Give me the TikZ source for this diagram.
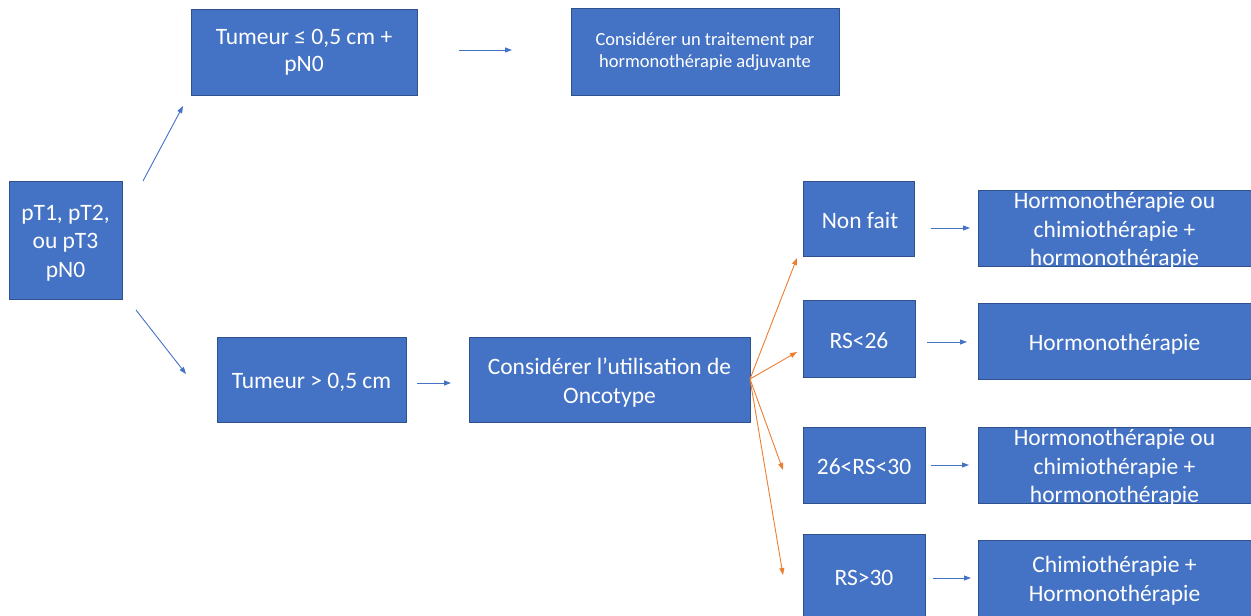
\documentclass[tikz,border=0pt]{standalone}
\usepackage{fontspec}
\setmainfont{Carlito}
\usetikzlibrary{arrows.meta}
\definecolor{boxblue}{HTML}{4472C4}
\definecolor{boxedge}{HTML}{2F528F}
\definecolor{orangec}{HTML}{ED7D31}
\begin{document}
\begin{tikzpicture}[x=1pt,y=-1pt,
  box/.style={draw=boxedge, line width=0.8pt, fill=boxblue, text=white, align=center, inner sep=0pt, font=\fontsize{23.5}{28.5}\selectfont},
  txt/.style={text=white, align=center, inner sep=0pt, font=\fontsize{23.5}{28.5}\selectfont},
  link/.style={draw=boxblue, line width=0.9pt, -{Triangle[length=7pt,width=5pt]}},
  olink/.style={draw=orangec, line width=0.9pt, -{Triangle[length=7pt,width=5pt]}}]
\useasboundingbox (0,0) rectangle (1251,616);

% left column
\node[box, minimum width=113pt, minimum height=118pt] (A) at (65.5,240) {};
\node[txt] (At) at (65.5,243) {pT1, pT2,\\ou pT3\\pN0};
\node[box, minimum width=226pt, minimum height=86pt, font=\fontsize{23.5}{27}\selectfont] (B) at (304,52) {Tumeur ≤ 0,5 cm +\\pN0};
\node[box, minimum width=268pt, minimum height=87pt, font=\fontsize{18.5}{22}\selectfont] (C) at (705,51.5) {Considérer un traitement par\\hormonothérapie adjuvante};
\node[box, minimum width=189pt, minimum height=85pt] (D) at (311.5,379.5) {};
\node[txt] (Dt) at (311.5,382) {Tumeur > 0,5 cm};
\node[box, minimum width=281pt, minimum height=85pt] (E) at (609.5,379.5) {};
\node[txt] (Et) at (609.5,382.5) {Considérer l’utilisation de\\Oncotype};

% results
\node[box, minimum width=111pt, minimum height=75pt] (F1) at (858.5,218.5) {};
\node[txt] (F1t) at (860,220) {Non fait};
\node[box, minimum width=112pt, minimum height=77pt] (F2) at (859,338.5) {};
\node[txt] (F2t) at (859,340.5) {RS<26};
\node[box, minimum width=122pt, minimum height=76pt] (F3) at (864,465) {};
\node[txt] (F3t) at (864,467) {26<RS<30};
\node[box, minimum width=122pt, minimum height=82pt] (F4) at (864,575) {};
\node[txt] (F4t) at (864,578) {RS>30};

% treatments
\node[box, minimum width=278pt, minimum height=76pt] (G1) at (1117,228) {};
\node[txt] (G1t) at (1114.5,231) {Hormonothérapie ou\\chimiothérapie +\\hormonothérapie};
\node[box, minimum width=278pt, minimum height=76pt] (G2) at (1117,341) {};
\node[txt] (G2t) at (1114.5,344) {Hormonothérapie};
\node[box, minimum width=278pt, minimum height=76pt] (G3) at (1117,465) {};
\node[txt] (G3t) at (1114.5,468) {Hormonothérapie ou\\chimiothérapie +\\hormonothérapie};
\node[box, minimum width=278pt, minimum height=76pt] (G4) at (1117,578) {};
\node[txt] (G4t) at (1114.5,580.5) {Chimiothérapie +\\Hormonothérapie};

% free arrow ends
\coordinate (ab1) at (143,181); \coordinate (ab2) at (183,106);
\coordinate (ad1) at (136,310); \coordinate (ad2) at (186,374);
\coordinate (bc1) at (459,50);  \coordinate (bc2) at (512,50);
\coordinate (de1) at (417,383); \coordinate (de2) at (451,383);
\coordinate (eo) at (750,379);
\coordinate (f1in) at (797,258); \coordinate (f2in) at (797,352);
\coordinate (f3in) at (783,470); \coordinate (f4in) at (783,575);
\coordinate (g1a) at (931,228); \coordinate (g1b) at (970,228);
\coordinate (g2a) at (927,342); \coordinate (g2b) at (967,342);
\coordinate (g3a) at (931,465); \coordinate (g3b) at (969,465);
\coordinate (g4a) at (933,578); \coordinate (g4b) at (971,578);

\draw[link] (ab1) -- (ab2);
\draw[link] (ad1) -- (ad2);
\draw[link] (bc1) -- (bc2);
\draw[link] (de1) -- (de2);
\draw[olink] (eo) -- (f1in);
\draw[olink] (eo) -- (f2in);
\draw[olink] (eo) -- (f3in);
\draw[olink] (eo) -- (f4in);
\draw[link] (g1a) -- (g1b);
\draw[link] (g2a) -- (g2b);
\draw[link] (g3a) -- (g3b);
\draw[link] (g4a) -- (g4b);
\end{tikzpicture}
\end{document}
